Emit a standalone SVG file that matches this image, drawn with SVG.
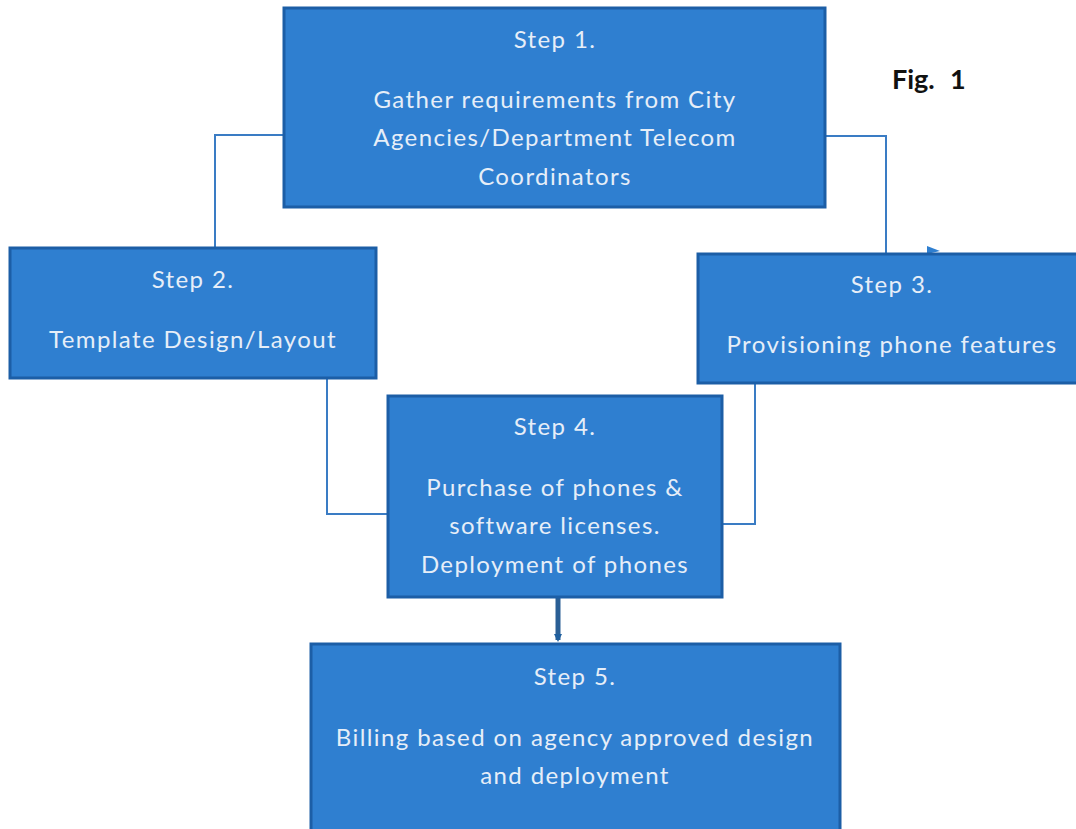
<svg xmlns="http://www.w3.org/2000/svg" width="1076" height="829" viewBox="0 0 1076 829">
<style>
.box{fill:#2f7fd0;stroke:#1c5ea6;stroke-width:3}
.t{font-family:Lato,"Open Sans","Liberation Sans",sans-serif;font-size:24px;fill:#e6eef8;text-anchor:middle;letter-spacing:1.4px}
.c{fill:none;stroke:#3a7cc4;stroke-width:2}
.fig{font-family:Lato,"Liberation Sans",sans-serif;font-size:27px;font-weight:bold;fill:#111}
</style>
<defs>
<marker id="ah" markerWidth="8" markerHeight="8" refX="6" refY="4" orient="auto" markerUnits="userSpaceOnUse">
<path d="M0,0 L8,4 L0,8 Z" fill="#1f5f9e"/>
</marker>
</defs>
<rect width="1076" height="829" fill="#ffffff"/>
<g id="connectors">
<path class="c" d="M284,135 H215 V248"/>
<path class="c" d="M825,136 H886 V254"/>
<path d="M927,246 L940,251 L927,254 Z" fill="#2f7fd0"/>
<path class="c" d="M327,378 V514 H388"/>
<path class="c" d="M755,383 V524 H722"/>
<path d="M558,597 V640" fill="none" stroke="#2a5f95" stroke-width="5" marker-end="url(#ah)"/>
</g>
<g id="step1">
<rect class="box" x="284" y="8" width="541" height="199"/>
<text class="t" x="555" y="48">Step 1.</text>
<text class="t" x="555" y="108">Gather requirements from City</text>
<text class="t" x="555" y="146">Agencies/Department Telecom</text>
<text class="t" x="555" y="185">Coordinators</text>
</g>
<g id="step2">
<rect class="box" x="10" y="248" width="366" height="130"/>
<text class="t" x="193" y="288">Step 2.</text>
<text class="t" x="193" y="348">Template Design/Layout</text>
</g>
<g id="step3">
<rect class="box" x="698" y="254" width="380" height="129"/>
<text class="t" x="892" y="293">Step 3.</text>
<text class="t" x="892" y="353">Provisioning phone features</text>
</g>
<g id="step4">
<rect class="box" x="388" y="396" width="334" height="201"/>
<text class="t" x="555" y="435">Step 4.</text>
<text class="t" x="555" y="496">Purchase of phones &amp;</text>
<text class="t" x="555" y="534">software licenses.</text>
<text class="t" x="555" y="573">Deployment of phones</text>
</g>
<g id="step5">
<rect class="box" x="311" y="644" width="529" height="190"/>
<text class="t" x="575" y="685">Step 5.</text>
<text class="t" x="575" y="746">Billing based on agency approved design</text>
<text class="t" x="575" y="784">and deployment</text>
</g>
<text class="fig" x="892" y="89">Fig.</text>
<text class="fig" x="950" y="89">1</text>
</svg>
